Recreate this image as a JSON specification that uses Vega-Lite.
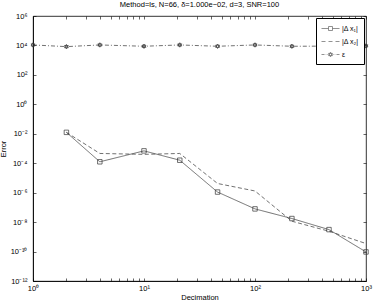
{
  "$schema": "https://vega.github.io/schema/vega-lite/v6.json",
  "width": 333,
  "height": 265,
  "autosize": "none",
  "padding": {"left": 33, "top": 16, "right": 8, "bottom": 24},
  "background": "white",
  "config": {
    "font": "Liberation Sans",
    "view": {"stroke": "#000", "strokeWidth": 0.8},
    "axis": {"domainColor": "#000", "domainWidth": 0.8, "tickColor": "#000", "tickWidth": 0.6, "labelColor": "#000", "titleColor": "#000", "labelFont": "Liberation Sans", "titleFont": "Liberation Sans", "labelFontSize": 7.5, "titleFontSize": 7.5, "titleFontWeight": "normal", "grid": false, "labelOverlap": false, "labelFlush": false}
  },
  "title": {"text": "Method=ls, N=66, δ=1.000e−02, d=3, SNR=100", "fontSize": 7.5, "fontWeight": "normal", "font": "Liberation Sans", "color": "#000", "offset": 4},
  "data": {"values": [
    {"d": 1, "series": "ε", "err": 10800},
    {"d": 2, "series": "ε", "err": 8300},
    {"d": 4, "series": "ε", "err": 10800},
    {"d": 10, "series": "ε", "err": 8800},
    {"d": 21, "series": "ε", "err": 10800},
    {"d": 46, "series": "ε", "err": 8800},
    {"d": 100, "series": "ε", "err": 10800},
    {"d": 215, "series": "ε", "err": 8800},
    {"d": 464, "series": "ε", "err": 9000},
    {"d": 1000, "series": "ε", "err": 9300},
    {"d": 2, "series": "|Δ x₁|", "err": 0.0125},
    {"d": 4, "series": "|Δ x₁|", "err": 0.000125},
    {"d": 10, "series": "|Δ x₁|", "err": 0.00069},
    {"d": 21, "series": "|Δ x₁|", "err": 0.00016},
    {"d": 46, "series": "|Δ x₁|", "err": 1.1e-6},
    {"d": 100, "series": "|Δ x₁|", "err": 7.9e-8},
    {"d": 215, "series": "|Δ x₁|", "err": 1.75e-8},
    {"d": 464, "series": "|Δ x₁|", "err": 3.1e-9},
    {"d": 1000, "series": "|Δ x₁|", "err": 9.4e-11},
    {"d": 2, "series": "|Δ x₂|", "err": 0.0125},
    {"d": 4, "series": "|Δ x₂|", "err": 0.00046},
    {"d": 10, "series": "|Δ x₂|", "err": 0.0004},
    {"d": 21, "series": "|Δ x₂|", "err": 0.00046},
    {"d": 46, "series": "|Δ x₂|", "err": 4.2e-6},
    {"d": 100, "series": "|Δ x₂|", "err": 1.3e-6},
    {"d": 215, "series": "|Δ x₂|", "err": 1.15e-8},
    {"d": 464, "series": "|Δ x₂|", "err": 2.4e-9},
    {"d": 1000, "series": "|Δ x₂|", "err": 3.5e-10}
  ]},
  "layer": [
    {
      "mark": {"type": "line", "color": "#333", "strokeWidth": 0.7},
      "encoding": {
        "x": {"field": "d", "type": "quantitative", "scale": {"type": "log", "domain": [1, 1000], "nice": false},
          "axis": {"orient": "bottom", "title": "Decimation", "values": [1,2,3,4,5,6,7,8,9,10,20,30,40,50,60,70,80,90,100,200,300,400,500,600,700,800,900,1000], "tickSize": -3, "labelPadding": 6, "titlePadding": 2,
            "labelExpr": "datum.value == 1 ? '10⁰' : datum.value == 10 ? '10¹' : datum.value == 100 ? '10²' : datum.value == 1000 ? '10³' : ''"}},
        "y": {"field": "err", "type": "quantitative", "scale": {"type": "log", "domain": [1e-12, 1e6], "nice": false},
          "axis": {"orient": "left", "title": "Error", "values": [1e-12, 1e-10, 1e-8, 1e-6, 1e-4, 1e-2, 1, 100, 10000, 1000000], "tickSize": -3, "labelPadding": 9, "titlePadding": 3,
            "labelExpr": "datum.value == 1e-12 ? '10⁻¹²' : datum.value == 1e-10 ? '10⁻¹⁰' : datum.value == 1e-8 ? '10⁻⁸' : datum.value == 1e-6 ? '10⁻⁶' : datum.value == 1e-4 ? '10⁻⁴' : datum.value == 1e-2 ? '10⁻²' : datum.value == 1 ? '10⁰' : datum.value == 100 ? '10²' : datum.value == 10000 ? '10⁴' : '10⁶'"}},
        "strokeDash": {"field": "series", "type": "nominal",
          "scale": {"domain": ["|Δ x₁|", "|Δ x₂|", "ε"], "range": [[1, 0], [4, 2.5], [4, 2, 1, 2]]},
          "legend": null}
      }
    },
    {
      "transform": [{"filter": "datum.series != '|Δ x₂|'"}],
      "mark": {"type": "point", "filled": false, "color": "#333", "strokeWidth": 0.7, "size": 20, "opacity": 1},
      "encoding": {
        "x": {"field": "d", "type": "quantitative", "scale": {"type": "log", "domain": [1, 1000], "nice": false},
          "axis": {"orient": "top", "title": null, "labels": false, "domain": false, "values": [1,2,3,4,5,6,7,8,9,10,20,30,40,50,60,70,80,90,100,200,300,400,500,600,700,800,900,1000], "tickSize": -3}},
        "y": {"field": "err", "type": "quantitative", "scale": {"type": "log", "domain": [1e-12, 1e6], "nice": false},
          "axis": {"orient": "right", "title": null, "labels": false, "domain": false, "values": [1e-12, 1e-10, 1e-8, 1e-6, 1e-4, 1e-2, 1, 100, 10000, 1000000], "tickSize": -3}},
        "shape": {"field": "series", "type": "nominal",
          "scale": {"domain": ["|Δ x₁|", "ε"], "range": ["square", "M0,-1L0.866,0.5L-0.866,0.5ZM0,1L0.866,-0.5L-0.866,-0.5Z"]},
          "legend": null}
      }
    },
    {
      "transform": [{"filter": "datum.d < 0"}],
      "mark": {"type": "point", "filled": false, "color": "#222", "strokeWidth": 0.7, "size": 100},
      "encoding": {
        "x": {"field": "d", "type": "quantitative", "scale": {"type": "log", "domain": [1, 1000], "nice": false}, "axis": null},
        "y": {"field": "err", "type": "quantitative", "scale": {"type": "log", "domain": [1e-12, 1e6], "nice": false}, "axis": null},
        "shape": {"field": "series", "type": "nominal",
          "scale": {"domain": ["|Δ x₁|", "|Δ x₂|", "ε"], "range": [
            "M-1.8,0H-0.4M0.4,0H1.8M-0.4,-0.4H0.4V0.4H-0.4Z",
            "M-1.8,0H-1.0M-0.4,0H0.4M1.0,0H1.8",
            "M-1.8,0H-1.2M-0.95,0H-0.85M-0.6,0H-0.45M0.45,0H0.6M0.85,0H0.95M1.2,0H1.8M0,-0.45L0.39,0.225L-0.39,0.225ZM0,0.45L0.39,-0.225L-0.39,-0.225Z"]},
          "legend": {"orient": "top-right", "offset": 2, "title": null, "strokeColor": "#000", "fillColor": "white", "padding": 5, "rowPadding": 4, "symbolSize": 100, "symbolOffset": 4, "labelOffset": 6, "labelFontSize": 7, "labelFont": "Liberation Sans", "labelColor": "#000", "symbolStrokeColor": "#222", "symbolFillColor": "transparent", "symbolStrokeWidth": 0.7}}
      }
    }
  ],
  "resolve": {"axis": {"x": "independent", "y": "independent"}, "scale": {"shape": "independent"}}
}
